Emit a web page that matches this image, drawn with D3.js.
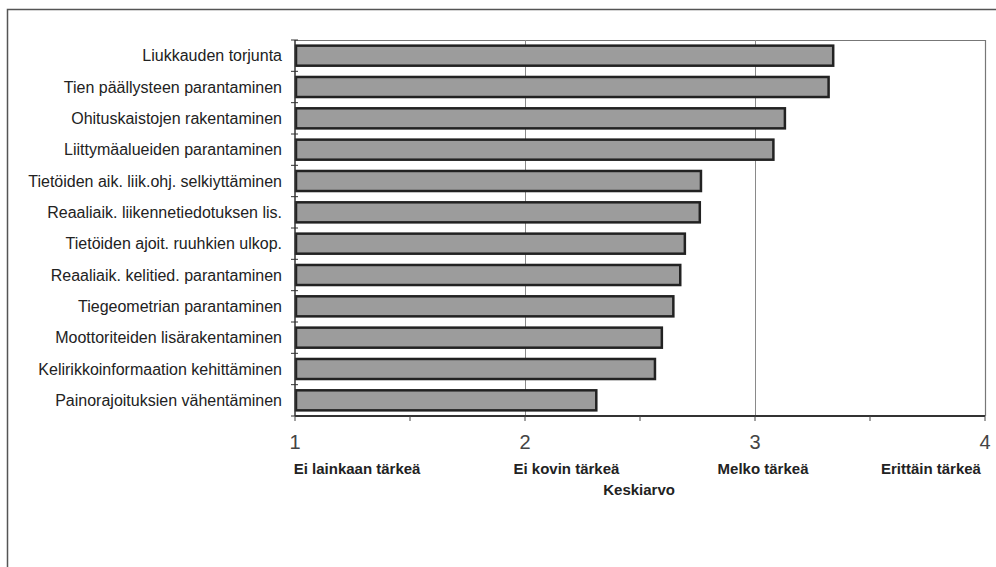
<!DOCTYPE html>
<html>
<head>
<meta charset="utf-8">
<script src="https://cdn.jsdelivr.net/npm/d3@7"></script>
<style>
  body { margin: 0; background: #fff; }
  text { font-family: "Liberation Sans", Arial, sans-serif; }
</style>
</head>
<body>
<script>
// categories, top to bottom
var categories = [
  "Liukkauden torjunta",
  "Tien päällysteen parantaminen",
  "Ohituskaistojen rakentaminen",
  "Liittymäalueiden parantaminen",
  "Tietöiden aik. liik.ohj. selkiyttäminen",
  "Reaaliaik. liikennetiedotuksen lis.",
  "Tietöiden ajoit. ruuhkien ulkop.",
  "Reaaliaik. kelitied. parantaminen",
  "Tiegeometrian parantaminen",
  "Moottoriteiden lisärakentaminen",
  "Kelirikkoinformaation kehittäminen",
  "Painorajoituksien vähentäminen"
];
var means = [3.34, 3.32, 3.13, 3.08, 2.765, 2.76, 2.695, 2.675, 2.645, 2.595, 2.565, 2.31];
var tickValues = [1, 2, 3, 4];
var minorTicks = [1, 1.5, 2, 2.5, 3, 3.5, 4];
var scaleNames = ["Ei lainkaan tärkeä", "Ei kovin tärkeä", "Melko tärkeä", "Erittäin tärkeä"];
var scaleNamePos = [1.27, 2.18, 3.035, 3.765];
var axisTitle = "Keskiarvo";

var width = 996, height = 567,
    pLeft = 295, pRight = 985, pTop = 40, pBottom = 416;

var svg = d3.select("body").append("svg")
    .attr("width", width)
    .attr("height", height);

// outer frame (only top and left edges visible)
svg.append("path")
    .attr("d", "M7.5,567 V9.5 H996")
    .attr("fill", "none")
    .attr("stroke", "#555")
    .attr("stroke-width", 1.5);

var x = d3.scaleLinear().domain([1, 4]).range([pLeft, pRight]);
var y = d3.scaleBand().domain(categories).range([pTop, pBottom]).paddingInner(0.36).paddingOuter(0.18);

// plot border top and right
svg.append("path")
    .attr("d", "M" + pLeft + "," + (pTop + 0.5) + " H" + (pRight + 0.5) + " V" + pBottom)
    .attr("fill", "none")
    .attr("stroke", "#777")
    .attr("stroke-width", 1.2);

// grid lines
svg.selectAll("line.grid")
    .data([2, 3])
  .enter().append("line")
    .attr("class", "grid")
    .attr("x1", function(d) { return x(d) + 0.5; })
    .attr("x2", function(d) { return x(d) + 0.5; })
    .attr("y1", pTop)
    .attr("y2", pBottom)
    .attr("stroke", "#8a8a8a")
    .attr("stroke-width", 1);

// bars
svg.selectAll("rect.bar")
    .data(means)
  .enter().append("rect")
    .attr("class", "bar")
    .attr("x", x(1) + 1)
    .attr("y", function(d, i) { return y(categories[i]); })
    .attr("width", function(d) { return x(d) - x(1) - 1; })
    .attr("height", y.bandwidth())
    .attr("fill", "#9c9c9c")
    .attr("stroke", "#222")
    .attr("stroke-width", 2.5);

// y axis with ticks between categories
var yAxis = svg.append("g").attr("transform", "translate(" + pLeft + ",0)");
yAxis.append("line")
    .attr("y1", pTop).attr("y2", pBottom)
    .attr("stroke", "#333").attr("stroke-width", 1.5);
yAxis.selectAll("line.tick")
    .data(d3.range(categories.length + 1))
  .enter().append("line")
    .attr("class", "tick")
    .attr("x1", -4).attr("x2", 3)
    .attr("y1", function(d) { return pTop + d * (pBottom - pTop) / categories.length; })
    .attr("y2", function(d) { return pTop + d * (pBottom - pTop) / categories.length; })
    .attr("stroke", "#333");

yAxis.selectAll("text.cat")
    .data(categories)
  .enter().append("text")
    .attr("class", "cat")
    .attr("x", -13)
    .attr("y", function(d) { return y(d) + y.bandwidth() / 2; })
    .attr("dy", "0.35em")
    .attr("text-anchor", "end")
    .attr("font-size", 16)
    .attr("fill", "#222")
    .text(function(d) { return d; });

// x axis
var xAxis = svg.append("g").attr("transform", "translate(0," + pBottom + ")");
xAxis.append("line")
    .attr("x1", pLeft).attr("x2", pRight)
    .attr("stroke", "#333").attr("stroke-width", 2);
xAxis.selectAll("line.tick")
    .data(minorTicks)
  .enter().append("line")
    .attr("class", "tick")
    .attr("x1", function(d) { return x(d); })
    .attr("x2", function(d) { return x(d); })
    .attr("y1", 0).attr("y2", 5)
    .attr("stroke", "#444");
xAxis.selectAll("text.num")
    .data(tickValues)
  .enter().append("text")
    .attr("class", "num")
    .attr("x", function(d) { return x(d); })
    .attr("y", 33)
    .attr("text-anchor", "middle")
    .attr("font-size", 20)
    .attr("fill", "#444")
    .text(function(d) { return d; });

svg.selectAll("text.scale")
    .data(scaleNames)
  .enter().append("text")
    .attr("class", "scale")
    .attr("x", function(d, i) { return x(scaleNamePos[i]); })
    .attr("y", 474)
    .attr("text-anchor", "middle")
    .attr("font-size", 15)
    .attr("font-weight", "bold")
    .attr("fill", "#222")
    .text(function(d) { return d; });

svg.append("text")
    .attr("x", x(2.496))
    .attr("y", 495)
    .attr("text-anchor", "middle")
    .attr("font-size", 15)
    .attr("font-weight", "bold")
    .attr("fill", "#222")
    .text(axisTitle);
</script>
</body>
</html>
